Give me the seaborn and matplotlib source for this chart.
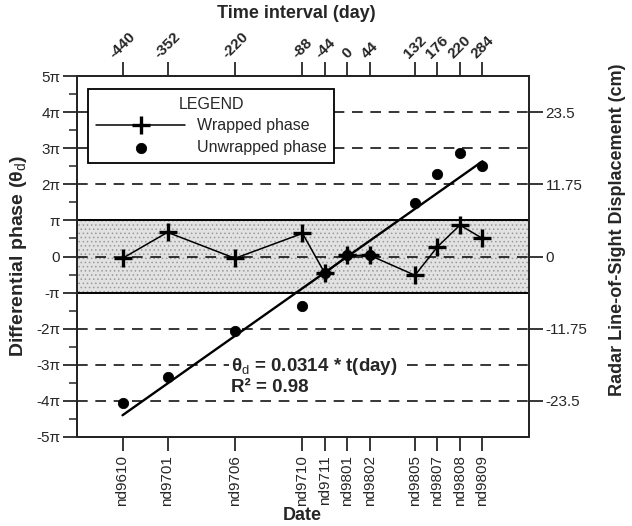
import numpy as np
import pandas as pd
import matplotlib
matplotlib.use("Agg")
import matplotlib.pyplot as plt
import seaborn as sns

# ---- data ----
days = [-440, -352, -220, -88, -44, 0, 44, 132, 176, 220, 264]
dates = ["nd9610", "nd9701", "nd9706", "nd9710", "nd9711", "nd9801",
         "nd9802", "nd9805", "nd9807", "nd9808", "nd9809"]
interval_labels = ["-440", "-352", "-220", "-88", "-44", "0", "44",
                   "132", "176", "220", "284"]
wrapped = [-0.05, 0.67, -0.05, 0.64, -0.47, 0.03, 0.03, -0.52, 0.27, 0.87, 0.50]   # in units of pi
unwrapped = [-4.05, -3.33, -2.05, -1.36, -0.47, 0.03, 0.03, 1.48, 2.28, 2.87, 2.50]  # in units of pi
slope = 0.0314  # rad / day
fit_days = [-440, 264]
phase_ticks = [5, 4, 3, 2, 1, 0, -1, -2, -3, -4, -5]
phase_labels = ["5π", "4π", "3π", "2π", "π", "0", "-π", "-2π", "-3π", "-4π", "-5π"]
disp_ticks = [23.5, 11.75, 0, -11.75, -23.5]
disp_labels = ["23.5", "11.75", "0", "-11.75", "-23.5"]

sns.set_style("ticks")
plt.rcParams["font.family"] = ["Liberation Sans", "DejaVu Sans"]
plt.rcParams["mathtext.fontset"] = "custom"
plt.rcParams["mathtext.rm"] = "Liberation Sans"
plt.rcParams["mathtext.it"] = "Liberation Sans:italic"
plt.rcParams["mathtext.bf"] = "Liberation Sans:bold"
plt.rcParams["hatch.linewidth"] = 0.6
plt.rcParams["hatch.color"] = "#8a8a8a"

fig = plt.figure(figsize=(6.32, 5.26), dpi=100)
ax = fig.add_axes([77/632, 1-437/526, 452/632, 361/526])

df = pd.DataFrame({"day": days, "wrapped": wrapped, "unwrapped": unwrapped})
fit_df = pd.DataFrame({"day": fit_days,
                       "phase": [slope*d/np.pi for d in fit_days]})

# shaded band
ax.axhspan(-1, 1, facecolor="#e2e2e2", edgecolor="none", zorder=0)
ax.axhspan(-1, 1, facecolor="none", hatch="....", edgecolor="#9a9a9a", lw=0, zorder=0.1)
ax.axhline(1, color="black", lw=1.4, zorder=1)
ax.axhline(-1, color="black", lw=1.4, zorder=1)
for yv in [4, 3, 2, 0, -2, -3, -4]:
    ax.axhline(yv, color="black", lw=1.1, ls=(0, (7, 5)), zorder=1)

sns.lineplot(data=fit_df, x="day", y="phase", ax=ax, color="black", lw=1.7, zorder=3)
sns.lineplot(data=df, x="day", y="wrapped", ax=ax, color="black", lw=1.1,
             marker="+", markersize=12.5, markeredgewidth=2.4, markeredgecolor="black",
             zorder=4, label="Wrapped phase")
sns.scatterplot(data=df, x="day", y="unwrapped", ax=ax, color="black", s=55,
                edgecolor="black", zorder=4, label="Unwrapped phase")

ax.text(-227, -3.32, "$\\mathbf{\\theta}_{\\rm d}$ = 0.0314 * t(day)\nR² = 0.98",
        fontsize=13.5, fontweight="bold", ha="left", va="center", linespacing=1.15,
        bbox=dict(facecolor="white", edgecolor="none", pad=2), zorder=2.5)

ax.set_xlim(-529, 355)
ax.set_ylim(-5, 5)
ax.set_yticks(phase_ticks)
ax.set_yticklabels(phase_labels, fontsize=11)
ax.set_yticks(np.arange(-4.5, 5, 1.0), minor=True)
ax.tick_params(axis="y", which="major", length=10, width=1.3, direction="out", pad=2)
ax.tick_params(axis="y", which="minor", length=6, width=1.1, direction="out")
ax.set_xticks(days)
ax.set_xticklabels(dates, rotation=90, fontsize=11)
ax.tick_params(axis="x", length=10, width=1.3, direction="out", pad=3)
ax.set_xlabel("")
ax.set_ylabel("")
for s in ax.spines.values():
    s.set_visible(True)
    s.set_linewidth(1.4)
    s.set_color("black")

sec = ax.secondary_xaxis("top")
sec.set_xticks(days)
sec.set_xticklabels(interval_labels, rotation=45, fontsize=11, fontweight="bold")
sec.tick_params(axis="x", length=10, width=1.3, direction="out", pad=1)
sec.spines["top"].set_linewidth(1.4)

ax2 = ax.twinx()
ax2.set_ylim(-29.375, 29.375)
ax2.set_yticks(disp_ticks)
ax2.set_yticklabels(disp_labels, fontsize=11)
ax2.tick_params(axis="y", length=10, width=1.3, direction="out", pad=2)
for s in ax2.spines.values():
    s.set_linewidth(1.4)

leg = ax.legend(loc="upper left", bbox_to_anchor=(11/452, 1-13/361), borderaxespad=0,
                title="LEGEND", fontsize=11.5, title_fontsize=11.5, frameon=True,
                fancybox=False, edgecolor="black", framealpha=1, handlelength=5.6,
                borderpad=0.5, labelspacing=0.4, handletextpad=0.7)
leg.get_frame().set_linewidth(1.3)
leg.set_zorder(10)

fig.text(296/632, 1-13/526, "Time interval (day)", fontsize=13, fontweight="bold",
         ha="center", va="center")
fig.text(302/632, 1-515/526, "Date", fontsize=13, fontweight="bold",
         ha="center", va="center")
fig.text(19/632, 1-256/526, "Differential phase ($\\mathbf{\\theta}_{\\rm d}$)", fontsize=14,
         fontweight="bold", rotation=90, ha="center", va="center")
fig.text(617/632, 1-230/526, "Radar Line-of-Sight Displacement (cm)", fontsize=13,
         fontweight="bold", rotation=90, ha="center", va="center")

fig.savefig("out.png", dpi=100)
